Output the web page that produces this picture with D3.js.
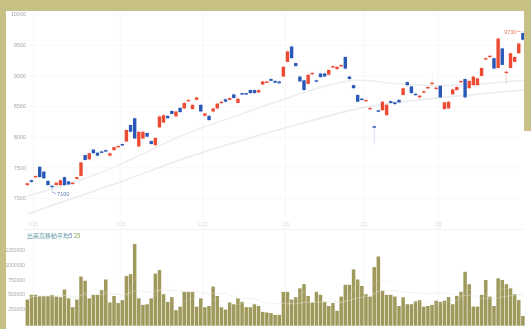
<!DOCTYPE html>
<html><head><meta charset="utf-8">
<script src="https://cdn.jsdelivr.net/npm/d3@7"></script>
<style>
html,body{margin:0;padding:0;background:#c8c186;overflow:hidden;}
svg{display:block;filter:blur(0.35px);}
text{font-family:"Liberation Sans","DejaVu Sans",sans-serif;}
</style>
</head><body>
<svg id="c" width="531" height="329"></svg>
<script>
// ---- data ----
const openP = [7210,7290,7350,7510,7430,7280,7200,7210,7210,7340,
 7270,7240,7310,7360,7700,7630,7790,7740,7760,7780,
 7690,7780,7840,7880,7920,8190,8300,7840,7970,8060,
 7930,7860,8150,8230,8340,8420,8330,8470,8460,8590,
 8450,8600,8520,8340,8340,8410,8460,8560,8610,8600,
 8690,8550,8710,8710,8760,8760,8720,8850,8890,8940,
 8910,8900,8980,9220,9470,9200,8980,8920,8860,9020,
 8920,9030,9030,9010,9140,9100,9160,9300,8980,8840,
 8680,8620,8590,8450,8170,8430,8430,8350,8580,8560,
 8600,8680,8890,8820,8700,8640,8730,8800,8860,8790,
 8830,8450,8460,8690,8760,8900,8940,8790,8840,8840,
 8990,9270,9310,9280,9120,9440,9050,9120,9220,9360,
 9690];
const closeP = [7240,7260,7360,7340,7320,7210,7180,7250,7290,7210,
 7220,7250,7340,7580,7620,7730,7730,7690,7750,7770,
 7730,7830,7850,7860,8110,8080,7970,8080,8080,8000,
 7880,7980,8330,8350,8300,8370,8410,8400,8550,8600,
 8520,8640,8410,8380,8270,8460,8540,8570,8570,8630,
 8630,8620,8700,8700,8710,8710,8760,8900,8900,8910,
 8880,8870,9140,9390,9280,9150,8900,8760,9010,9040,
 8900,8970,8980,9090,9150,9140,9170,9110,8940,8790,
 8570,8610,8600,8470,8150,8410,8570,8520,8550,8530,
 8560,8790,8840,8710,8690,8670,8740,8810,8880,8800,
 8640,8560,8570,8770,8810,8910,8640,8910,8980,8950,
 9120,9280,9320,9110,9600,9170,9060,9360,9300,9520,
 9580];
const highP = [7260,7310,7380,7530,7450,7300,7220,7270,7310,7360,
 7290,7270,7360,7600,7720,7750,7810,7760,7780,7800,
 7750,7850,7870,7900,8130,8210,8320,8100,8100,8080,
 7950,8000,8350,8370,8360,8440,8430,8490,8570,8620,
 8540,8660,8540,8400,8360,8480,8560,8590,8630,8650,
 8710,8640,8730,8730,8780,8780,8780,8920,8920,8960,
 8930,8920,9160,9420,9500,9220,9000,8940,9040,9060,
 8940,9050,9050,9110,9170,9160,9190,9320,9000,8860,
 8700,8640,8620,8490,8190,8450,8590,8540,8600,8580,
 8620,8810,8910,8840,8720,8690,8760,8830,8950,8820,
 8850,8580,8590,8790,8830,8930,8960,8930,9000,8970,
 9140,9300,9340,9300,9620,9460,9080,9380,9320,9540,
 9730];
const lowP = [7190,7240,7330,7320,7300,7190,7100,7190,7190,7190,
 7200,7220,7290,7340,7600,7610,7710,7670,7730,7750,
 7670,7760,7820,7840,7900,8060,7950,7820,7950,7980,
 7860,7840,8130,8210,8280,8350,8310,8380,8440,8570,
 8430,8580,8390,8320,8250,8390,8440,8540,8550,8580,
 8610,8530,8680,8680,8690,8690,8700,8830,8870,8890,
 8860,8850,8960,9200,9260,9130,8880,8740,8840,9000,
 8880,8950,8960,8990,9120,9080,9140,9090,8920,8770,
 8550,8590,8570,8430,7870,8390,8410,8330,8530,8510,
 8540,8660,8820,8690,8670,8620,8710,8780,8840,8770,
 8620,8430,8440,8670,8740,8880,8620,8770,8820,8820,
 8970,9250,9290,9090,9100,9150,8850,9100,9200,9340,
 9560];
const volume = [410000,490000,490000,470000,470000,470000,490000,460000,450000,580000,
 430000,280000,410000,800000,730000,430000,490000,490000,570000,750000,
 360000,470000,350000,400000,810000,840000,1350000,430000,320000,330000,
 430000,850000,910000,500000,370000,450000,230000,290000,540000,540000,
 540000,290000,430000,280000,300000,630000,470000,280000,240000,360000,
 330000,430000,370000,280000,280000,330000,300000,200000,190000,180000,
 150000,150000,540000,540000,410000,450000,600000,670000,470000,360000,
 540000,490000,370000,300000,350000,220000,460000,660000,660000,920000,
 750000,640000,500000,460000,960000,1140000,560000,490000,490000,460000,
 300000,450000,330000,330000,380000,400000,290000,300000,320000,390000,
 370000,390000,450000,330000,470000,540000,880000,670000,290000,290000,
 490000,740000,460000,300000,770000,740000,670000,600000,500000,400000,
 130000];
// price moving averages, sampled at day index
const maLongIdx = [0,18,39,51,64,73,80,90,100,110,120];
const maLongVal = [7030,7420,8060,8350,8650,8840,8920,8860,8830,8860,8920];
const maSlowIdx = [0,10,22,39,54,66,81,95,107,120];
const maSlowVal = [6740,6970,7250,7670,7980,8210,8470,8600,8680,8760];
const priceTicks = [7000,7500,8000,8500,9000,9500,10000];
const volTicks = [250000,500000,750000,1000000,1250000];
const monthIdx = [1,22,42,62,81,99];
const monthLabels = ["10月","11月","12月","1月","2月","3月"];
const highLabel = "9730";
const lowLabel = "7100";
const legendParts = ["出来高移動平均", "5", " 25"];

// ---- drawing ----
const svg = d3.select("#c");
const W = 531, H = 329;
const C_UP = "#ec4a32", C_DN = "#2a58b8", C_VOL = "#9f995c";
const CJK = "'Noto Sans CJK JP',sans-serif";

svg.append("rect").attr("width", W).attr("height", H).attr("fill", "#c8c186");
svg.append("rect").attr("x", 6).attr("y", 11).attr("width", 518).attr("height", H - 11).attr("fill", "#fff");
svg.append("rect").attr("x", 524).attr("y", 131).attr("width", 7).attr("height", H - 131).attr("fill", "#fff");

const n = openP.length;
const x = d3.scaleLinear().domain([0, n - 1]).range([27.3, 522.9]);
const y = d3.scaleLinear().domain([7000, 10000]).range([198, 14]);
const yv = d3.scaleLinear().domain([0, 1250000]).range([323.7, 250]);

svg.append("defs").append("clipPath").attr("id", "pc")
  .append("rect").attr("x", 6).attr("y", 11).attr("width", 518).attr("height", 208);

// gridlines price
svg.append("g").attr("transform", "translate(28,0)")
  .call(d3.axisRight(y).tickValues(priceTicks).tickSize(492).tickFormat(""))
  .call(g => g.select(".domain").remove())
  .call(g => g.selectAll("line").attr("stroke", "#f3f3f3").attr("stroke-width", 0.6));

// month vertical gridlines
svg.append("g").selectAll("line").data(monthIdx).join("line")
  .attr("x1", d => x(d) + 2).attr("x2", d => x(d) + 2)
  .attr("y1", 12).attr("y2", 325)
  .attr("stroke", "#f2f2f2").attr("stroke-width", 0.6);

// price axis labels
svg.append("g").attr("transform", "translate(27,0)")
  .call(d3.axisLeft(y).tickValues(priceTicks).tickSize(0).tickPadding(1).tickFormat(d3.format("d")))
  .call(g => g.select(".domain").remove())
  .call(g => g.selectAll("text").attr("fill", "#a8a8a8").attr("font-size", 5.5));

const plot = svg.append("g").attr("clip-path", "url(#pc)");

// moving averages
const lineGen = d3.line().x(d => x(d[0])).y(d => y(d[1])).curve(d3.curveMonotoneX);
plot.append("path").datum(maSlowIdx.map((d, i) => [d, maSlowVal[i]]))
  .attr("d", lineGen).attr("fill", "none").attr("stroke", "#e9ecf0").attr("stroke-width", 1.6);
plot.append("path").datum(maLongIdx.map((d, i) => [d, maLongVal[i]]))
  .attr("d", lineGen).attr("fill", "none").attr("stroke", "#eceef2").attr("stroke-width", 1.6);

// candles
const days = d3.range(n);
const col = i => closeP[i] >= openP[i] ? C_UP : C_DN;
plot.append("g").selectAll("line").data(days).join("line")
  .attr("x1", i => x(i)).attr("x2", i => x(i))
  .attr("y1", i => y(highP[i])).attr("y2", i => y(lowP[i]))
  .attr("stroke", col).attr("stroke-opacity", 0.35).attr("stroke-width", 0.6);
plot.append("g").selectAll("rect").data(days).join("rect")
  .attr("x", i => x(i) - 1.7).attr("width", 3.4)
  .attr("y", i => y(Math.max(openP[i], closeP[i])))
  .attr("height", i => Math.max(1.5, Math.abs(y(openP[i]) - y(closeP[i]))))
  .attr("fill", col);

// high / low annotations
const iHi = d3.maxIndex(highP), iLo = d3.minIndex(lowP);
svg.append("line").attr("x1", x(iHi) - 6).attr("x2", x(iHi) - 2)
  .attr("y1", y(highP[iHi]) + 1).attr("y2", y(highP[iHi]) + 1)
  .attr("stroke", "#e8775a").attr("stroke-width", 0.6);
svg.append("text").attr("x", x(iHi) - 6.5).attr("y", y(highP[iHi]) + 3)
  .attr("text-anchor", "end").attr("font-size", 5.5).attr("fill", "#e8775a").text(highLabel);
svg.append("line").attr("x1", x(iLo)).attr("x2", x(iLo) + 4)
  .attr("y1", y(lowP[iLo])).attr("y2", y(lowP[iLo]) + 2)
  .attr("stroke", "#5a78b8").attr("stroke-width", 0.6);
svg.append("text").attr("x", x(iLo) + 5).attr("y", y(lowP[iLo]) + 4)
  .attr("font-size", 5.5).attr("fill", "#5a78b8").text(lowLabel);

// month labels & separator
svg.append("g").selectAll("text").data(monthIdx).join("text")
  .attr("x", d => x(d) + 2).attr("y", 226).attr("text-anchor", "middle")
  .style("font-family", CJK)
  .attr("font-size", 5).attr("fill", "#dcdcdc").text((d, i) => monthLabels[i]);
svg.append("line").attr("x1", 24).attr("x2", 524).attr("y1", 229.5).attr("y2", 229.5)
  .attr("stroke", "#ececec").attr("stroke-width", 0.7);

// legend
const leg = svg.append("text").attr("x", 27).attr("y", 237.5).attr("font-size", 6)
  .style("font-family", CJK);
leg.append("tspan").attr("fill", "#5f97a3").text(legendParts[0]);
leg.append("tspan").attr("fill", "#5a6fc0").text(legendParts[1]);
leg.append("tspan").attr("fill", "#7aa048").text(legendParts[2]);

// volume axis labels
svg.append("g").attr("transform", "translate(26,0)")
  .call(d3.axisLeft(yv).tickValues(volTicks).tickSize(0).tickPadding(1).tickFormat(d3.format("d")))
  .call(g => g.select(".domain").remove())
  .call(g => g.selectAll("text").attr("fill", "#a8a8a8").attr("font-size", 5));

// volume bars
svg.append("g").selectAll("rect").data(days).join("rect")
  .attr("x", i => x(i) - 1.75).attr("width", 3.5)
  .attr("y", i => yv(volume[i]))
  .attr("height", i => yv(0) - yv(volume[i]) + 2)
  .attr("fill", C_VOL);

// volume moving averages (derived from the volume series)
const vma = k => days.map(i => [i, d3.mean(volume.slice(Math.max(0, i - k + 1), i + 1))]);
const vline = d3.line().x(d => x(d[0])).y(d => yv(d[1])).curve(d3.curveMonotoneX);
svg.append("path").datum(vma(25)).attr("d", vline).attr("fill", "none")
  .attr("stroke", "#e4e2d4").attr("stroke-opacity", 0.6).attr("stroke-width", 0.8);
svg.append("path").datum(vma(5)).attr("d", vline).attr("fill", "none")
  .attr("stroke", "#e8e6da").attr("stroke-opacity", 0.35).attr("stroke-width", 0.7);
</script>
</body></html>
